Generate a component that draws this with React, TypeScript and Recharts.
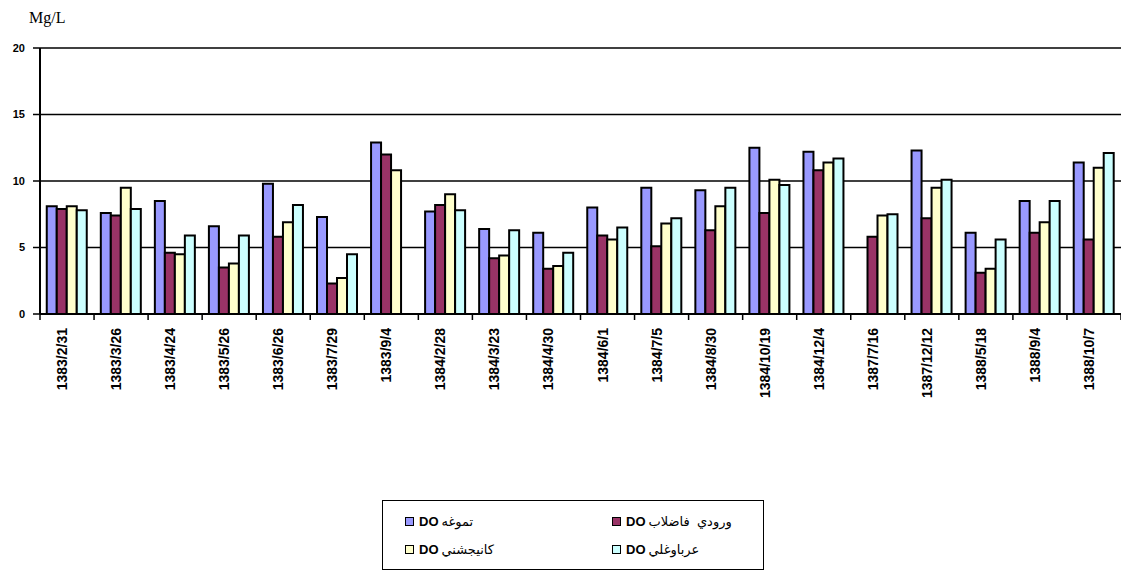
import React from "react";
import { BarChart, Bar, XAxis, YAxis, CartesianGrid } from "recharts";

const dates = [
  "1383/2/31", "1383/3/26", "1383/4/24", "1383/5/26", "1383/6/26",
  "1383/7/29", "1383/9/4", "1384/2/28", "1384/3/23", "1384/4/30",
  "1384/6/1", "1384/7/5", "1384/8/30", "1384/10/19", "1384/12/4",
  "1387/7/16", "1387/12/12", "1388/5/18", "1388/9/4", "1388/10/7",
];

const tamugheh = [8.1, 7.6, 8.5, 6.6, 9.8, 7.3, 12.9, 7.7, 6.4, 6.1, 8.0, 9.5, 9.3, 12.5, 12.2, null, 12.3, 6.1, 8.5, 11.4];
const wastewater = [7.9, 7.4, 4.6, 3.5, 5.8, 2.3, 12.0, 8.2, 4.2, 3.4, 5.9, 5.1, 6.3, 7.6, 10.8, 5.8, 7.2, 3.1, 6.1, 5.6];
const kanijeshni = [8.1, 9.5, 4.5, 3.8, 6.9, 2.7, 10.8, 9.0, 4.4, 3.6, 5.6, 6.8, 8.1, 10.1, 11.4, 7.4, 9.5, 3.4, 6.9, 11.0];
const arabOghli = [7.8, 7.9, 5.9, 5.9, 8.2, 4.5, null, 7.8, 6.3, 4.6, 6.5, 7.2, 9.5, 9.7, 11.7, 7.5, 10.1, 5.6, 8.5, 12.1];

const yTicks = [0, 5, 10, 15, 20];

const series = [
  { key: "tamugheh", name: "تموغه", values: tamugheh, color: "#9999FF" },
  { key: "wastewater", name: "ورودي  فاضلاب", values: wastewater, color: "#993366" },
  { key: "kanijeshni", name: "كانيجشني", values: kanijeshni, color: "#FFFFCC" },
  { key: "arabOghli", name: "عرباوغلي", values: arabOghli, color: "#CCFFFF" },
];

const data = dates.map((date, i) => {
  const row: Record<string, any> = { date };
  series.forEach((s) => {
    row[s.key] = s.values[i];
  });
  return row;
});

const font = "Arial, 'Liberation Sans', 'DejaVu Sans', sans-serif";

const DateTick = (props: any) => {
  const { x, y, payload, index, visibleTicksCount } = props;
  const half = payload && payload.offset ? payload.offset : 27;
  return (
    <g>
      <line x1={x - half} y1={y} x2={x - half} y2={y + 6} stroke="#000" strokeWidth={1.5} />
      {index === visibleTicksCount - 1 && (
        <line x1={x + half} y1={y} x2={x + half} y2={y + 6} stroke="#000" strokeWidth={1.5} />
      )}
      <text
        transform={`translate(${x},${y + 14}) rotate(-90)`}
        textAnchor="end"
        fontSize={14}
        fontWeight="bold"
        fontFamily={font}
        fill="#000"
      >
        {payload.value}
      </text>
    </g>
  );
};

export default function App() {
  return (
    <div style={{ position: "absolute", left: 0, top: 0, width: 1121, height: 575, background: "#fff" }}>
      <div
        style={{
          position: "absolute",
          left: 29,
          top: 9,
          fontFamily: "'Liberation Serif', 'Times New Roman', serif",
          fontSize: 16,
        }}
      >
        Mg/L
      </div>
      <BarChart
        width={1121}
        height={575}
        data={data}
        margin={{ top: 48, right: 0, bottom: 161, left: 0 }}
        barCategoryGap="12.5%"
        barGap={0}
      >
        <CartesianGrid vertical={false} stroke="#000" strokeWidth={1.3} />
        <XAxis
          dataKey="date"
          interval={0}
          height={100}
          tickLine={false}
          tickSize={0}
          tickMargin={0}
          axisLine={{ stroke: "#000", strokeWidth: 2 }}
          tick={<DateTick />}
        />
        <YAxis
          domain={[0, 20]}
          ticks={yTicks}
          width={40}
          tickSize={7}
          tickMargin={8}
          axisLine={{ stroke: "#000", strokeWidth: 2 }}
          tickLine={{ stroke: "#000", strokeWidth: 1.5 }}
          tick={{ fontSize: 11, fontWeight: "bold", fill: "#000", fontFamily: font }}
        />
        {series.map((s) => (
          <Bar
            key={s.key}
            dataKey={s.key}
            name={s.name}
            fill={s.color}
            stroke="#000"
            strokeWidth={2}
            isAnimationActive={false}
          />
        ))}
      </BarChart>
      <div
        style={{
          position: "absolute",
          left: 382,
          top: 500,
          width: 382,
          height: 70,
          border: "1px solid #000",
          boxSizing: "border-box",
          fontFamily: font,
          display: "grid",
          gridTemplateColumns: "207px 170px",
          gridTemplateRows: "1fr 1fr",
          paddingLeft: 22,
          paddingTop: 6,
          paddingBottom: 6,
        }}
      >
        {series.map((s) => (
          <div key={s.key} style={{ display: "flex", alignItems: "center", whiteSpace: "pre" }}>
            <span
              style={{
                display: "inline-block",
                width: 7,
                height: 7,
                background: s.color,
                border: "1.5px solid #000",
                marginRight: 5,
              }}
            />
            <span style={{ fontWeight: "bold", fontSize: 13 }}>DO</span>
            <span style={{ fontSize: 13, marginLeft: 3 }}>{s.name}</span>
          </div>
        ))}
      </div>
    </div>
  );
}
